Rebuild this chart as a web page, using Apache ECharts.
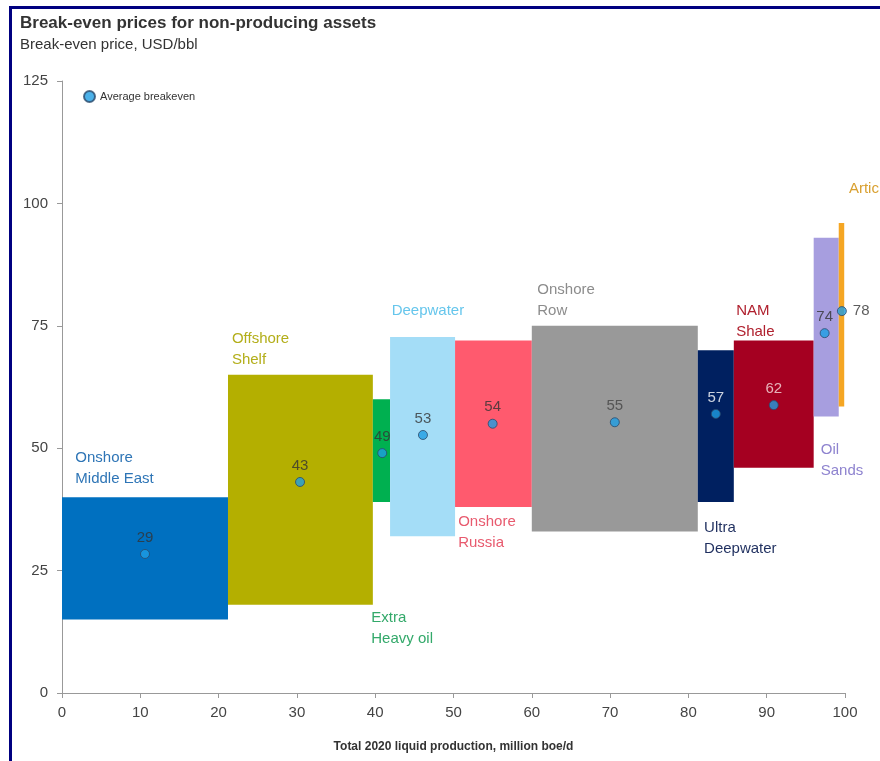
<!DOCTYPE html>
<html>
<head>
<meta charset="utf-8">
<title>Break-even prices</title>
<script src="https://cdn.jsdelivr.net/npm/echarts@6/dist/echarts.min.js"></script>
<style>
  html, body { margin: 0; padding: 0; background: #fff; }
  #chart { width: 880px; height: 761px; position: relative; }
  .frame-top { position: absolute; left: 9px; top: 6px; width: 871px; height: 3px; background: #000080; z-index: 5; }
  .frame-left { position: absolute; left: 9px; top: 6px; width: 3px; height: 755px; background: #000080; z-index: 5; }
</style>
</head>
<body>
<div id="chart"></div>
<div class="frame-top"></div>
<div class="frame-left"></div>
<script>
// 资产类别
const categories = ['Onshore\nMiddle East', 'Offshore\nShelf', 'Extra\nHeavy oil', 'Deepwater', 'Onshore\nRussia',
  'Onshore\nRow', 'Ultra\nDeepwater', 'NAM\nShale', 'Oil\nSands', 'Artic']
// 累计产量区间 (million boe/d)
const xStart = [0, 21.2, 39.7, 41.9, 50.2, 60, 81.2, 85.8, 96, 99.2]
const xEnd = [21.2, 39.7, 41.9, 50.2, 60, 81.2, 85.8, 96, 99.2, 99.9]
// 盈亏平衡价格区间 (USD/bbl)
const lowPrice = [15, 18, 39, 32, 38, 33, 39, 46, 56.5, 58.5]
const highPrice = [40, 65, 60, 72.7, 72, 75, 70, 72, 93, 96]
// 平均盈亏平衡点
const avgX = [10.6, 30.4, 40.9, 46.1, 55, 70.6, 83.5, 90.9, 97.4, 99.6]
const avgY = [28.4, 43.1, 49, 52.7, 55, 55.3, 57, 58.8, 73.5, 78]
const avgLabel = ['29', '43', '49', '53', '54', '55', '57', '62', '74', '78']
// 类别标签锚点 (数据坐标, 文本左上角)
const labelAt = [[1.7, 50.2], [21.7, 74.5], [39.5, 17.4], [42.1, 80.1], [50.6, 37.2],
  [60.7, 84.4], [82.0, 35.9], [86.1, 80.1], [96.9, 51.9], [100.5, 105.2]]

const boxColors = ['#0070C0', '#B4AF00', '#00B050', '#A4DDF7', '#FF5A6E', '#999999', '#002060', '#A50021', '#A79EDF', '#F5A623']
const textColors = ['#2E75B6', '#B3AE1A', '#33A96A', '#66C6EC', '#E85A6E', '#8C8C8C', '#1F2F5F', '#B0202E', '#8E83CF', '#D9A030']
const avgLabelColors = ['#333', '#333', '#333', '#333', '#333', '#444', '#fff', '#f6dede', '#333', '#333']

const chart = echarts.init(document.getElementById('chart'))

const boxData = categories.map((c, i) => [xStart[i], xEnd[i], lowPrice[i], highPrice[i]])
const avgData = avgX.map((x, i) => ({
  value: [x, avgY[i]],
  label: {
    color: avgLabelColors[i],
    position: i === 9 ? 'right' : 'top',
    distance: i === 9 ? 6 : 4
  }
}))

const option = {
  animation: false,
  textStyle: { fontFamily: 'Liberation Sans, Arial, sans-serif' },
  title: [
    {
      text: 'Break-even prices for non-producing assets',
      left: 15, top: 10,
      textStyle: { fontSize: 17, fontWeight: 'bold', color: '#333' }
    },
    {
      text: 'Break-even price, USD/bbl',
      left: 15, top: 32,
      textStyle: { fontSize: 15, fontWeight: 'normal', color: '#333' }
    }
  ],
  legend: {
    left: 78, top: 85,
    itemWidth: 11, itemHeight: 11,
    itemGap: 10,
    textStyle: { fontSize: 11, color: '#333' },
    data: ['Average breakeven']
  },
  grid: { left: 62, right: 35, top: 81, bottom: 68 },
  xAxis: {
    type: 'value',
    min: 0, max: 100, interval: 10,
    name: 'Total 2020 liquid production, million boe/d',
    nameLocation: 'middle',
    nameGap: 48,
    nameTextStyle: { fontSize: 12, fontWeight: 'bold', color: '#333' },
    axisLine: { show: true, lineStyle: { color: '#999' } },
    axisTick: { show: true, length: 5, lineStyle: { color: '#999' } },
    axisLabel: { fontSize: 15, color: '#444', margin: 12 },
    splitLine: { show: false }
  },
  yAxis: {
    type: 'value',
    min: 0, max: 125, interval: 25,
    axisLine: { show: true, lineStyle: { color: '#999' } },
    axisTick: { show: true, length: 5, lineStyle: { color: '#999' } },
    axisLabel: { fontSize: 15, color: '#444', margin: 14 },
    splitLine: { show: false }
  },
  series: [
    {
      name: 'boxes',
      type: 'custom',
      data: boxData,
      encode: { x: [0, 1], y: [2, 3] },
      renderItem: (params, api) => {
        const p0 = api.coord([api.value(0), api.value(3)])
        const p1 = api.coord([api.value(1), api.value(2)])
        return {
          type: 'rect',
          shape: { x: p0[0], y: p0[1], width: p1[0] - p0[0], height: p1[1] - p0[1] },
          style: { fill: boxColors[params.dataIndex] }
        }
      },
      z: 1
    },
    {
      name: 'names',
      type: 'custom',
      data: labelAt,
      clip: false,
      renderItem: (params, api) => {
        const p = api.coord([api.value(0), api.value(1)])
        return {
          type: 'text',
          x: p[0], y: p[1],
          style: {
            text: categories[params.dataIndex],
            fill: textColors[params.dataIndex],
            font: '15px "Liberation Sans", Arial, sans-serif',
            lineHeight: 21,
            textAlign: 'left',
            textVerticalAlign: 'top'
          }
        }
      },
      z: 3
    },
    {
      name: 'Average breakeven',
      type: 'scatter',
      data: avgData,
      symbolSize: 9,
      itemStyle: { color: '#1E9DE3', borderColor: '#2B4A6B', borderWidth: 1 },
      label: {
        show: true,
        fontSize: 15,
        formatter: p => avgLabel[p.dataIndex]
      },
      z: 4
    }
  ]
}

chart.setOption(option)
</script>
</body>
</html>
